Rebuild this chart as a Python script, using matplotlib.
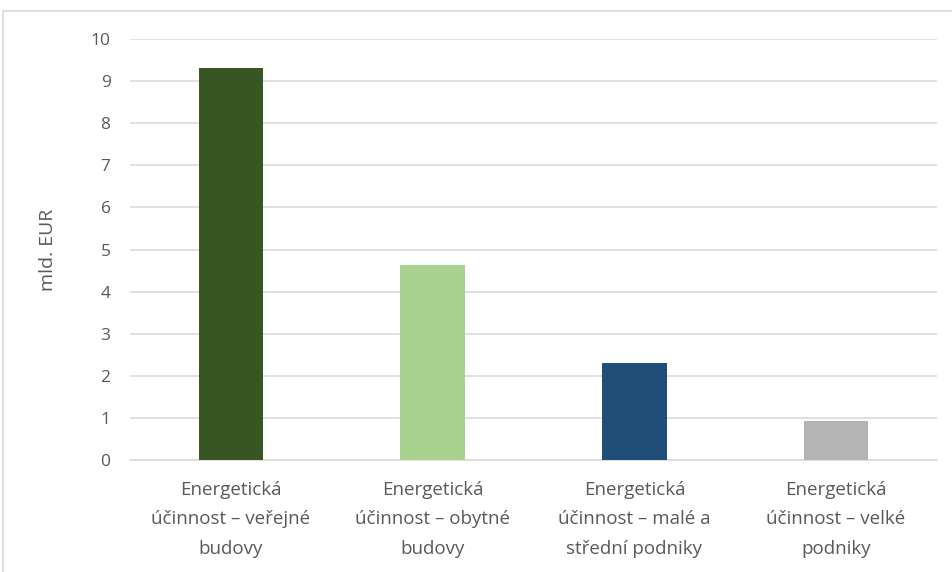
import matplotlib
matplotlib.use("Agg")
import matplotlib.pyplot as plt
from matplotlib.lines import Line2D

categories = [
    "Energetická\núčinnost – veřejné\nbudovy",
    "Energetická\núčinnost – obytné\nbudovy",
    "Energetická\núčinnost – malé a\nstřední podniky",
    "Energetická\núčinnost – velké\npodniky",
]
values = [9.31, 4.63, 2.30, 0.93]
colors = ["#375623", "#A9D18E", "#1F4E79", "#B4B4B4"]
yticks = list(range(0, 11))
ylabel = "mld. EUR"

plt.rcParams["font.family"] = ["Open Sans", "DejaVu Sans"]

W, H = 953, 572
fig = plt.figure(figsize=(W / 100, H / 100), dpi=100)
ax = fig.add_axes([130 / W, 1 - 460 / H, (937 - 130) / W, (460 - 39) / H])

x = list(range(len(categories)))
ax.bar(x, values, width=0.32, color=colors, zorder=3)

ax.set_xlim(-0.5, len(categories) - 0.5)
ax.set_ylim(0, 10)
ax.set_yticks(yticks)
ax.set_xticks(x)
ax.set_xticklabels(categories, fontsize=13.5, color="#595959", linespacing=1.82)
ax.tick_params(axis="y", labelsize=12.5, colors="#595959", length=0, pad=14)
ax.tick_params(axis="x", length=0, pad=15)
ax.grid(axis="y", color="#D9D9D9", linewidth=1.1, zorder=0)
for s in ["top", "right", "left"]:
    ax.spines[s].set_visible(False)
ax.spines["bottom"].set_color("#D9D9D9")
ax.spines["bottom"].set_linewidth(1.1)
ax.set_ylabel(ylabel, fontsize=14, color="#595959", labelpad=24)

# outer chart frame
fig.add_artist(Line2D([3.5 / W, 3.5 / W], [0, 1 - 11 / H], transform=fig.transFigure,
                      color="#D9D9D9", linewidth=1.2))
fig.add_artist(Line2D([3.5 / W, 1], [1 - 11 / H, 1 - 11 / H], transform=fig.transFigure,
                      color="#D9D9D9", linewidth=1.2))

fig.savefig("out.png", dpi=100)
